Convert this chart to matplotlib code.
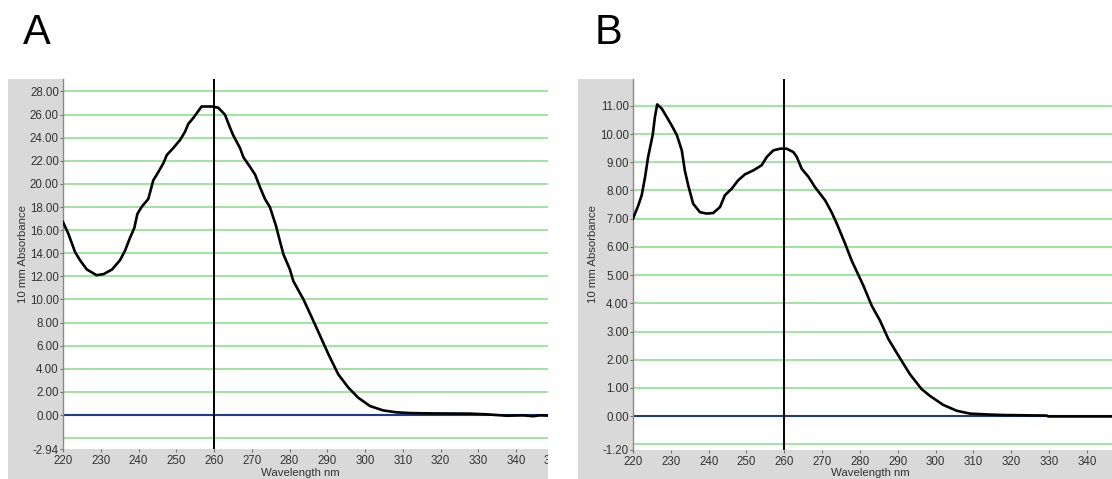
import matplotlib
matplotlib.use("Agg")
import matplotlib.pyplot as plt
from matplotlib.patches import Rectangle

# Spectrum A
wavelength_a = [220.0, 221.4, 223.2, 224.5, 226.3, 228.9, 230.8, 233.0, 235.1, 236.4,
                237.7, 238.9, 239.7, 240.8, 242.6, 243.9, 245.2, 246.6, 247.5, 249.2,
                251.0, 252.3, 253.2, 254.5, 256.7, 259.4, 261.1, 262.9, 264.2, 265.1,
                266.9, 267.8, 269.5, 270.9, 272.2, 273.5, 274.8, 276.4, 277.5, 278.4,
                280.1, 281.0, 283.7, 285.9, 288.1, 290.3, 292.9, 295.6, 298.2, 301.3,
                304.8, 308.4, 311.9, 317.2, 327.8, 332.2, 337.5, 341.9, 344.5, 346.3,
                348.5, 352.0]
absorb_a = [16.7, 15.7, 14.1, 13.4, 12.6, 12.1, 12.2, 12.6, 13.4, 14.2,
            15.3, 16.2, 17.4, 18.0, 18.7, 20.3, 21.0, 21.8, 22.5, 23.1,
            23.8, 24.5, 25.2, 25.7, 26.7, 26.7, 26.6, 26.0, 24.9, 24.2,
            23.1, 22.3, 21.5, 20.8, 19.7, 18.7, 18.0, 16.4, 15.0, 13.9,
            12.6, 11.6, 10.0, 8.45, 6.86, 5.27, 3.53, 2.37, 1.50, 0.78,
            0.40, 0.23, 0.17, 0.14, 0.12, 0.06, -0.06, -0.03, -0.10, -0.03,
            -0.05, -0.05]

# Spectrum B
wavelength_b = [220.0, 221.4, 222.3, 223.2, 224.0, 225.2, 225.8, 226.4, 227.6, 228.9,
                230.2, 231.6, 232.9, 233.7, 234.6, 235.9, 237.7, 239.5, 241.2, 243.0,
                244.3, 246.1, 247.8, 249.6, 251.8, 254.0, 255.4, 257.1, 258.9, 260.6,
                262.4, 263.3, 264.6, 266.4, 268.1, 270.8, 272.5, 273.9, 276.1, 277.8,
                280.9, 283.1, 285.3, 287.5, 290.2, 293.2, 296.3, 298.5, 302.0, 305.6,
                309.1, 313.5, 317.9, 329.4, 329.8, 346.7, 352.0]
absorb_b = [7.0, 7.47, 7.83, 8.48, 9.19, 9.96, 10.61, 11.05, 10.9, 10.61,
            10.31, 9.96, 9.42, 8.71, 8.18, 7.53, 7.23, 7.18, 7.20, 7.41,
            7.83, 8.06, 8.36, 8.57, 8.71, 8.89, 9.19, 9.42, 9.48, 9.48,
            9.36, 9.19, 8.77, 8.48, 8.12, 7.65, 7.23, 6.82, 6.11, 5.52,
            4.63, 3.92, 3.39, 2.74, 2.14, 1.49, 0.96, 0.72, 0.40, 0.19,
            0.09, 0.06, 0.04, 0.02, -0.01, -0.01, -0.01]

xticks = [220, 230, 240, 250, 260, 270, 280, 290, 300, 310, 320, 330, 340, 350]
marker_nm = 260

ylim_a = (-2.94, 29.08)
grid_a = list(range(-2, 29, 2))
yticks_a = [-2.94] + list(range(0, 29, 2))

ylim_b = (-1.20, 11.95)
grid_b = list(range(-1, 12, 1))
yticks_b = [-1.20] + list(range(0, 12, 1))

W, H = 1112, 479
fig = plt.figure(figsize=(W / 100, H / 100), dpi=100)
fig.patch.set_facecolor("white")

PANEL_GRAY = "#d9d9d9"
GRID_GREEN = "#86dc86"
ZERO_BLUE = "#1f3a8c"
TEXT_GRAY = "#333333"
FONT = ["Liberation Sans", "DejaVu Sans"]


def px_rect(x0, y0, x1, y1):
    """Figure-fraction rectangle from pixel corners (y measured from top)."""
    return (x0 / W, 1 - y1 / H, (x1 - x0) / W, (y1 - y0) / H)


def add_box(x0, y0, x1, y1, color, z):
    l, b, w, h = px_rect(x0, y0, x1, y1)
    fig.add_artist(Rectangle((l, b), w, h, transform=fig.transFigure,
                             facecolor=color, edgecolor="none", zorder=z))


def panel(ax, wl, ab, ylim, grid, yticks, letter, letter_x, bottom_px):
    ax.set_facecolor("white")
    ax.set_xlim(220, 352)
    ax.set_ylim(*ylim)
    for g in grid:
        if g == 0:
            continue
        ax.axhline(g, color=GRID_GREEN, lw=1.1, zorder=1)
    ax.axhline(0, color=ZERO_BLUE, lw=1.5, zorder=2)
    ax.axvline(marker_nm, color="black", lw=1.4, zorder=3)
    ax.plot(wl, ab, color="black", lw=1.9, zorder=4, solid_joinstyle="round")

    for side in ("top", "right", "bottom"):
        ax.spines[side].set_visible(False)
    ax.spines["left"].set_color("#8a8a8a")
    ax.spines["left"].set_linewidth(1.0)

    ax.set_xticks(xticks)
    ax.set_xticklabels([str(t) for t in xticks])
    ax.set_yticks(yticks)
    ax.set_yticklabels(["%.2f" % t for t in yticks])
    ax.tick_params(axis="x", direction="out", length=2.2, width=0.8, pad=2.3,
                   color="#707070", labelcolor=TEXT_GRAY, labelsize=8.3)
    ax.tick_params(axis="y", direction="out", length=2.2, width=0.8, pad=0.8,
                   color="#707070", labelcolor=TEXT_GRAY, labelsize=8.3)
    for lab in ax.get_xticklabels() + ax.get_yticklabels():
        lab.set_family(FONT)

    ax.set_xlabel("Wavelength nm", fontsize=8.2, color=TEXT_GRAY, family=FONT)
    ax.set_ylabel("10 mm Absorbance", fontsize=8.2, color=TEXT_GRAY, family=FONT)
    height_px = bottom_px - 79
    ax.xaxis.set_label_coords(0.476, -(467.5 - bottom_px) / height_px)
    ax.yaxis.set_label_coords(-0.07, 0.527)

    fig.text(letter_x / W, 1 - 33 / H, letter, fontsize=30, family=FONT,
             ha="center", va="center", color="black")


# gray frames behind each panel
add_box(8, 79, 548, 479, PANEL_GRAY, -2)
add_box(578, 79, 1112, 479, PANEL_GRAY, -2)

ax_a = fig.add_axes(px_rect(63, 79, 63 + 132 * 3.775, 449))
panel(ax_a, wavelength_a, absorb_a, ylim_a, grid_a, yticks_a, "A", 37, 449)

ax_b = fig.add_axes(px_rect(633, 79, 633 + 132 * 3.782, 450))
panel(ax_b, wavelength_b, absorb_b, ylim_b, grid_b, yticks_b, "B", 609, 450)

# white gap between the two frames trims panel A at its right edge
add_box(548, 60, 578, 479, "white", 10)

fig.savefig("out.png", dpi=100, facecolor="white")
